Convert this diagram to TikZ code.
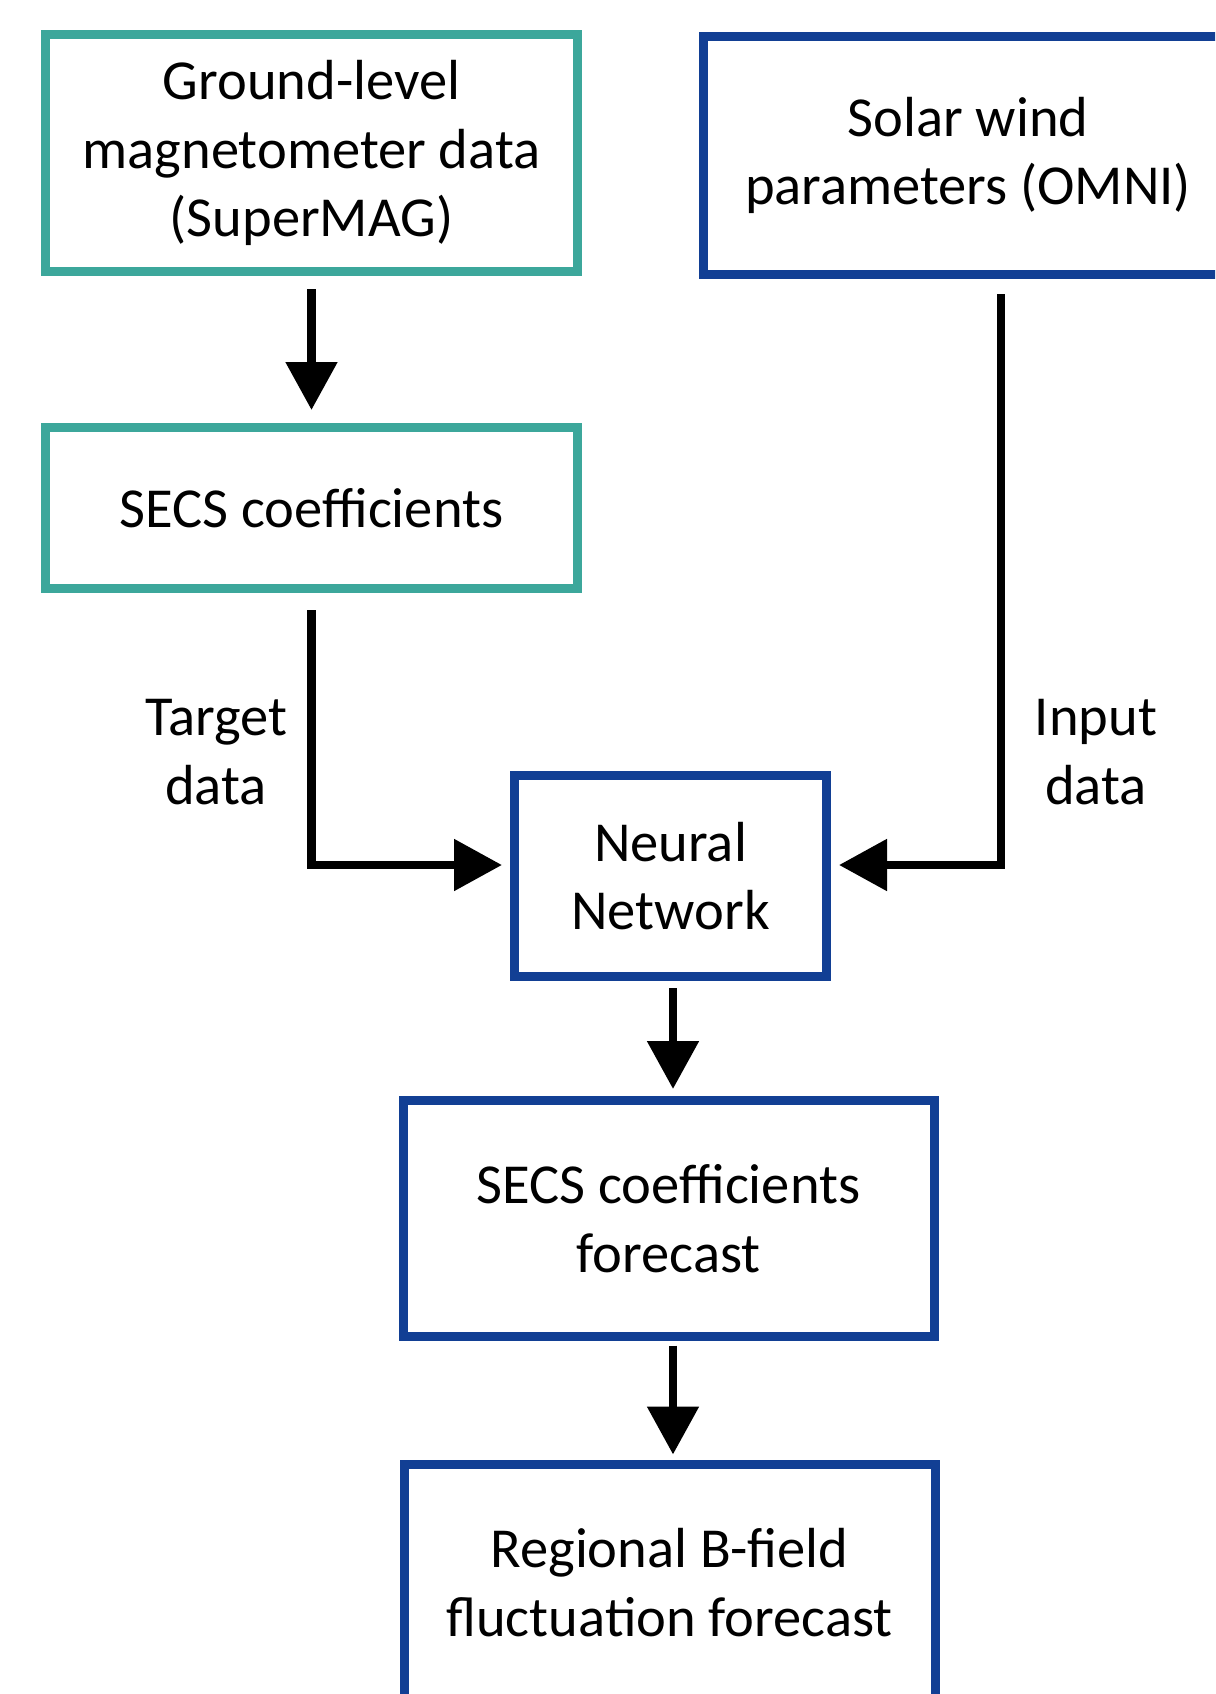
\documentclass[tikz,border=0pt]{standalone}
\usepackage{fontspec}
\setmainfont{Carlito}
\usetikzlibrary{arrows.meta}
\definecolor{tealbox}{RGB}{60,167,155}
\definecolor{bluebox}{RGB}{18,63,148}
\begin{document}
\begin{tikzpicture}[x=1pt,y=-1pt,
  box/.style={draw=#1, line width=9pt, inner sep=0pt, outer sep=0pt, align=center,
    font=\fontsize{56.5pt}{68.5pt}\selectfont},
  lbl/.style={inner sep=0pt, align=center, font=\fontsize{56.5pt}{68.5pt}\selectfont},
  arr/.style={draw=black, line width=8.5pt, -{Triangle[width=50pt,length=48pt]}}]
\useasboundingbox (0,0) rectangle (1215,1694);
\clip (0,0) rectangle (1215,1694);
\fill[white] (0,0) rectangle (1215,1694);
% boxes
\node[box=tealbox, minimum width=532pt, minimum height=237pt] (b1) at (311.5,153)
  {Ground-level\\magnetometer data\\(SuperMAG)};
\node[box=bluebox, minimum width=529pt, minimum height=238pt] (b2) at (968,155.5)
  {Solar wind\\parameters (OMNI)};
\node[box=tealbox, minimum width=532pt, minimum height=161pt] (b3) at (311.5,508)
  {SECS coefficients};
\node[box=bluebox, minimum width=312pt, minimum height=201pt] (nn) at (670.5,876)
  {Neural\\Network};
\node[box=bluebox, minimum width=531pt, minimum height=236pt] (b5) at (668.5,1218.5)
  {SECS coefficients\\forecast};
\node[box=bluebox, minimum width=531pt, minimum height=236pt] (b6) at (669.5,1582.5)
  {Regional B-field\\fluctuation forecast};
% labels
\node[lbl] (tl) at (216,752) {Target\\data};
\node[lbl] (il) at (1096,752) {Input\\data};
% connectors
\draw[arr] ([yshift=-17.5pt]b1.south) -- ([yshift=17.5pt]b3.north);
\draw[arr] ([yshift=-21.5pt]b3.south) |- ([xshift=-12.5pt,yshift=11pt]nn.west);
\draw[arr] ([xshift=33pt,yshift=-19.5pt]b2.south) |- ([xshift=12.5pt,yshift=11pt]nn.east);
\draw[arr] ([xshift=2.5pt,yshift=-11.5pt]nn.south) -- ([xshift=4.5pt,yshift=11.5pt]b5.north);
\draw[arr] ([xshift=4.5pt,yshift=-9pt]b5.south) -- ([xshift=3.5pt,yshift=10pt]b6.north);
\end{tikzpicture}
\end{document}
